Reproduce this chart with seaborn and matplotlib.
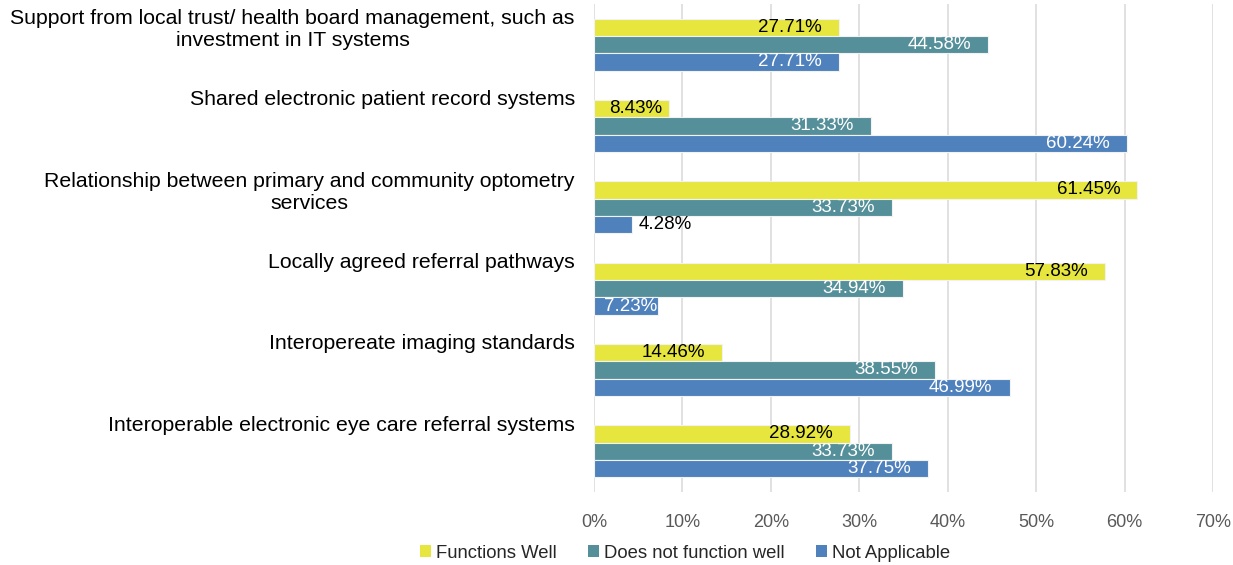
import numpy as np
import pandas as pd
import matplotlib.pyplot as plt
import matplotlib.transforms as mtransforms
from matplotlib.patches import Patch
import seaborn as sns

# Data
categories = [
    "Support from local trust/ health board management, such as\ninvestment in IT systems",
    "Shared electronic patient record systems",
    "Relationship between primary and community optometry\nservices",
    "Locally agreed referral pathways",
    "Interopereate imaging standards",
    "Interoperable electronic eye care referral systems",
]
series = ["Functions Well", "Does not function well", "Not Applicable"]
functions_well = [27.71, 8.43, 61.45, 57.83, 14.46, 28.92]
not_function_well = [44.58, 31.33, 33.73, 34.94, 38.55, 33.73]
not_applicable = [27.71, 60.24, 4.28, 7.23, 46.99, 37.75]
x_ticks = [0, 10, 20, 30, 40, 50, 60, 70]

colors = ["#E6E63F", "#55909A", "#4F81BD"]
label_colors = ["black", "white", "white"]

df = pd.DataFrame({"category": categories,
                   series[0]: functions_well,
                   series[1]: not_function_well,
                   series[2]: not_applicable})
long_df = df.melt(id_vars="category", var_name="series", value_name="value")

sns.set_style("white")
plt.rcParams['font.family'] = ['Liberation Sans', 'DejaVu Sans']

fig = plt.figure(figsize=(12.33, 5.65), dpi=100)
ax = fig.add_axes([0.4818, 0.1292, 0.502, 0.8638])

sns.barplot(data=long_df, y="category", x="value", hue="series", hue_order=series,
            order=categories, orient="h", palette=colors, width=0.64, gap=0,
            saturation=1, legend=False, linewidth=0.8, edgecolor="#F2F2F2", ax=ax)

ax.set_xlim(0, 70)
ax.set_ylim(len(categories) - 0.5, -0.5)
ax.set_xticks(x_ticks)
ax.set_xticklabels([f"{t}%" for t in x_ticks])
ax.tick_params(axis="x", labelsize=13, colors="#595959", length=0, pad=16)
ax.set_yticks([])
ax.set_xlabel("")
ax.set_ylabel("")
ax.grid(axis="x", color="#D9D9D9", linewidth=1.1)
ax.set_axisbelow(True)
for s in ax.spines.values():
    s.set_visible(False)

# data labels, Excel style "inside end" (centred in short bars, outside if too short)
for i, cont in enumerate(ax.containers):
    for bar in cont:
        w = bar.get_width()
        yc = bar.get_y() + bar.get_height() / 2
        txt = f"{w:.2f}%"
        if w < 5:
            ax.annotate(txt, (w, yc), xytext=(5, 0), textcoords="offset points",
                        ha="left", va="center", fontsize=13.5, color="black")
        elif w < 10:
            ax.annotate(txt, (w / 2, yc), xytext=(3, 0), textcoords="offset points",
                        ha="center", va="center", fontsize=13.5, color=label_colors[i])
        else:
            ax.annotate(txt, (w, yc), xytext=(-12.3, 0), textcoords="offset points",
                        ha="right", va="center", fontsize=13.5, color=label_colors[i])

# category labels at the top of each band
trans = mtransforms.blended_transform_factory(ax.transAxes, ax.transData)
for k, cat in enumerate(categories):
    ax.text(-0.031, k - 0.44, cat, transform=trans, ha="right", va="top",
            multialignment="center", fontsize=15.3, color="black")

handles = [Patch(facecolor=c, edgecolor="none") for c in colors]
fig.legend(handles, series, loc="center", bbox_to_anchor=(685 / 1233, 1 - 553 / 565),
           ncol=3, frameon=False, fontsize=13.3, handlelength=0.6, handleheight=0.6,
           handletextpad=0.25, columnspacing=1.7)

plt.savefig("out.png", dpi=100)
plt.close()
